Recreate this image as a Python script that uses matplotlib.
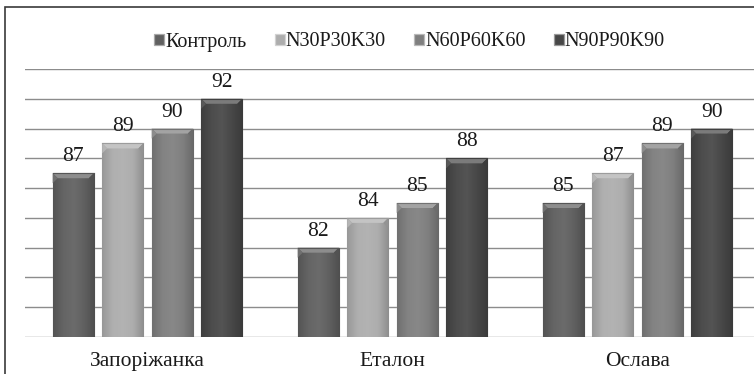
import numpy as np
import matplotlib
matplotlib.use("Agg")
import matplotlib.pyplot as plt
from matplotlib.patches import Rectangle, Polygon
from matplotlib.colors import LinearSegmentedColormap, to_rgb

plt.rcParams['font.family'] = ['Liberation Serif', 'DejaVu Serif']
FONT = 'Liberation Serif'

varieties = ["Запоріжанка", "Еталон", "Ослава"]
series_names = ["Контроль", "N30P30K30", "N60P60K60", "N90P90K90"]
control = [87, 82, 85]
n30 = [89, 84, 87]
n60 = [90, 85, 89]
n90 = [92, 88, 90]
series_values = [control, n30, n60, n90]
series_colors = ["#606060", "#adadad", "#7f7f7f", "#474747"]

y_min, y_max, y_step = 76, 94, 2

W, H = 754, 374
fig = plt.figure(figsize=(W / 100, H / 100), dpi=100)
fig.patch.set_facecolor("white")

# outer chart frame (top and left edges visible)
fig.add_artist(Rectangle((5 / W, -0.05), 1.2, (H - 7) / H + 0.05,
                         transform=fig.transFigure, fill=False,
                         edgecolor="#3a3a3a", linewidth=1.2))

ax_left, ax_right, ax_top, ax_bottom = 25, 760, 69, 337
ax = fig.add_axes([ax_left / W, (H - ax_bottom) / H,
                   (ax_right - ax_left) / W, (ax_bottom - ax_top) / H])
ax.set_facecolor("none")
for s in ax.spines.values():
    s.set_visible(False)

x = np.arange(len(varieties))
n = len(series_names)
pitch = 0.202
width = 0.168
xlim = (-0.5, len(varieties) - 0.5)
ylim = (y_min, y_max)

# data units per pixel, for the small bevel details
px_x = (xlim[1] - xlim[0]) / (ax_right - ax_left)
px_y = (ylim[1] - ylim[0]) / (ax_bottom - ax_top)

for yv in np.arange(y_min, y_max + 0.1, y_step):
    ax.axhline(yv, color="#8c8c8c", linewidth=1.0, zorder=0)


def shade(c, k):
    r = np.array(to_rgb(c))
    if k >= 0:
        return tuple(r + (1 - r) * k)
    return tuple(r * (1 + k))


def gradient_cmap(c):
    return LinearSegmentedColormap.from_list(
        "g", [shade(c, -0.12), shade(c, 0.03), shade(c, 0.07),
              shade(c, 0.0), shade(c, -0.18)])


grad = np.linspace(0, 1, 64).reshape(1, -1)
handles = []
for i, (name, vals, col) in enumerate(zip(series_names, series_values, series_colors)):
    pos = x + (i - (n - 1) / 2) * pitch
    bars = ax.bar(pos, np.array(vals) - y_min, width, bottom=y_min,
                  color=col, edgecolor=shade(col, 0.45), linewidth=0.9,
                  zorder=2, label=name)
    handles.append(bars[0])
    cmap = gradient_cmap(col)
    for b, v in zip(bars, vals):
        x0, w = b.get_x(), b.get_width()
        im = ax.imshow(grad, extent=(x0, x0 + w, y_min, v), aspect="auto",
                       cmap=cmap, zorder=2.5, interpolation="bicubic")
        im.set_clip_path(b)
        # top bevel
        bh = 5 * px_y
        bw = 5 * px_x
        ax.add_patch(Polygon([(x0, v), (x0 + w, v), (x0 + w - bw, v - bh), (x0 + bw, v - bh)],
                             closed=True, facecolor=shade(col, 0.28),
                             edgecolor="none", zorder=3))
        ax.add_patch(Polygon([(x0, v), (x0 + bw, v - bh), (x0, v - 2 * bh)],
                             closed=True, facecolor=shade(col, 0.1),
                             edgecolor="none", zorder=3))
        ax.add_patch(Polygon([(x0 + w, v), (x0 + w - bw, v - bh), (x0 + w, v - 2 * bh)],
                             closed=True, facecolor=shade(col, -0.15),
                             edgecolor="none", zorder=3))
        ax.plot([x0, x0 + w], [v, v], color=shade(col, -0.1), linewidth=0.8, zorder=3.2)
        ax.text(x0 + w / 2, v + 7 * px_y, f"{v}", ha="center", va="bottom",
                fontsize=15.5, family=FONT, color="#1a1a1a", zorder=4)

ax.set_xlim(*xlim)
ax.set_ylim(*ylim)
ax.set_yticks([])
ax.set_xticks(x)
ax.set_xticklabels(varieties, fontsize=15.5, family=FONT, color="#1a1a1a")
ax.tick_params(axis="x", length=0, pad=11)

leg = fig.legend(handles, series_names, loc="center", bbox_to_anchor=(409.5 / W, (H - 42) / H),
                 ncol=4, frameon=False, prop={'family': FONT, 'size': 14.5},
                 handlelength=0.5, handleheight=0.5,
                 handletextpad=0.05, columnspacing=1.4, borderaxespad=0)
for t in leg.get_texts():
    t.set_color("#1a1a1a")

fig.savefig("out.png", dpi=100, facecolor="white")
